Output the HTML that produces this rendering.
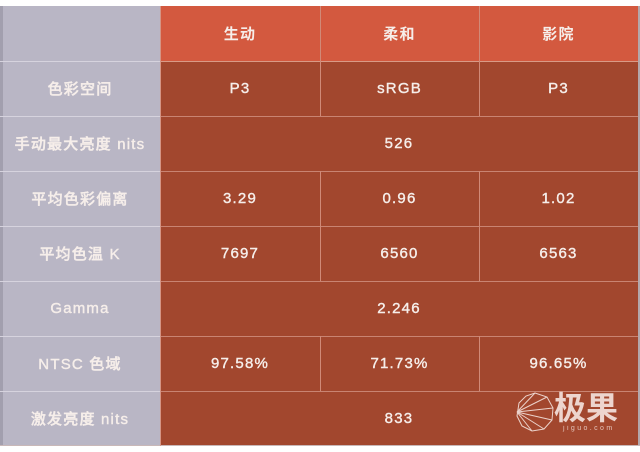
<!DOCTYPE html>
<html><head><meta charset="utf-8">
<style>
html,body{margin:0;padding:0;background:#fff;}
body{width:640px;height:452px;position:relative;overflow:hidden;
font-family:"Liberation Sans","Noto Sans CJK SC",sans-serif;}
.c{position:absolute;display:flex;align-items:center;justify-content:center;
color:#f6eeea;font-size:15px;letter-spacing:1.2px;font-weight:500;box-sizing:border-box;
-webkit-text-stroke:0.4px #f6eeea;}
.b{font-weight:bold;-webkit-text-stroke:0;}
.g{background:#b9b6c5;}
.h{background:#d3593f;}
.r{background:#a2472e;}
.hl{position:absolute;height:1px;}
.vl{position:absolute;width:1px;}
</style></head><body>
<!-- label column -->
<div class="c g" style="left:0;top:6px;width:160px;height:440px;"></div>
<div style="position:absolute;left:0;top:6px;width:3px;height:440px;background:#a29fae;"></div>
<!-- header -->
<div class="c h b" style="left:160px;top:6px;width:160px;height:55px;">生动</div>
<div class="c h b" style="left:320px;top:6px;width:159px;height:55px;">柔和</div>
<div class="c h b" style="left:479px;top:6px;width:159px;height:55px;">影院</div>
<!-- body background -->
<div class="r" style="position:absolute;left:160px;top:61px;width:478px;height:385px;"></div>
<div style="position:absolute;left:638px;top:6px;width:2px;height:440px;background:#b3a7ab;"></div>

<!-- labels -->
<div class="c" style="left:0;top:61px;width:160px;height:55px;">色彩空间</div>
<div class="c" style="left:0;top:116px;width:160px;height:55px;">手动最大亮度 nits</div>
<div class="c" style="left:0;top:171px;width:160px;height:55px;">平均色彩偏离</div>
<div class="c" style="left:0;top:226px;width:160px;height:55px;">平均色温 K</div>
<div class="c" style="left:0;top:281px;width:160px;height:55px;">Gamma</div>
<div class="c" style="left:0;top:336px;width:160px;height:55px;">NTSC 色域</div>
<div class="c" style="left:0;top:391px;width:160px;height:55px;">激发亮度 nits</div>

<!-- values -->
<div class="c" style="left:160px;top:61px;width:160px;height:55px;">P3</div>
<div class="c" style="left:320px;top:61px;width:159px;height:55px;">sRGB</div>
<div class="c" style="left:479px;top:61px;width:159px;height:55px;">P3</div>

<div class="c" style="left:160px;top:116px;width:478px;height:55px;">526</div>

<div class="c" style="left:160px;top:171px;width:160px;height:55px;">3.29</div>
<div class="c" style="left:320px;top:171px;width:159px;height:55px;">0.96</div>
<div class="c" style="left:479px;top:171px;width:159px;height:55px;">1.02</div>

<div class="c" style="left:160px;top:226px;width:160px;height:55px;">7697</div>
<div class="c" style="left:320px;top:226px;width:159px;height:55px;">6560</div>
<div class="c" style="left:479px;top:226px;width:159px;height:55px;">6563</div>

<div class="c" style="left:160px;top:281px;width:478px;height:55px;">2.246</div>

<div class="c" style="left:160px;top:336px;width:160px;height:55px;">97.58%</div>
<div class="c" style="left:320px;top:336px;width:159px;height:55px;">71.73%</div>
<div class="c" style="left:479px;top:336px;width:159px;height:55px;">96.65%</div>

<div class="c" style="left:160px;top:391px;width:478px;height:55px;">833</div>

<!-- horizontal lines -->
<div class="hl" style="left:0;top:61px;width:160px;background:#d6d3de;"></div>
<div class="hl" style="left:0;top:116px;width:160px;background:#d6d3de;"></div>
<div class="hl" style="left:0;top:171px;width:160px;background:#d6d3de;"></div>
<div class="hl" style="left:0;top:226px;width:160px;background:#d6d3de;"></div>
<div class="hl" style="left:0;top:281px;width:160px;background:#d6d3de;"></div>
<div class="hl" style="left:0;top:336px;width:160px;background:#d6d3de;"></div>
<div class="hl" style="left:0;top:391px;width:160px;background:#d6d3de;"></div>

<div class="hl" style="left:160px;top:61px;width:478px;background:#d99a86;"></div>
<div class="hl" style="left:160px;top:116px;width:478px;background:#c98472;"></div>
<div class="hl" style="left:160px;top:171px;width:478px;background:#c98472;"></div>
<div class="hl" style="left:160px;top:226px;width:478px;background:#c98472;"></div>
<div class="hl" style="left:160px;top:281px;width:478px;background:#c98472;"></div>
<div class="hl" style="left:160px;top:336px;width:478px;background:#c98472;"></div>
<div class="hl" style="left:160px;top:391px;width:478px;background:#c98472;"></div>
<div class="hl" style="left:0;top:445px;width:640px;background:#c9b8b8;"></div>

<!-- vertical lines -->
<div class="vl" style="left:160px;top:6px;height:440px;background:#d59585;"></div>
<div class="vl" style="left:320px;top:6px;height:110px;background:#d08a78;"></div>
<div class="vl" style="left:479px;top:6px;height:110px;background:#d08a78;"></div>
<div class="vl" style="left:320px;top:171px;height:110px;background:#d08a78;"></div>
<div class="vl" style="left:479px;top:171px;height:110px;background:#d08a78;"></div>
<div class="vl" style="left:320px;top:336px;height:55px;background:#d08a78;"></div>
<div class="vl" style="left:479px;top:336px;height:55px;background:#d08a78;"></div>

<!-- watermark -->
<svg style="position:absolute;left:510px;top:388px;" width="125" height="50" viewBox="0 0 125 50">
<g fill="none" stroke="#f4e2dc" stroke-width="1" opacity="0.9">
<polygon points="25,5 37,9 43,20 42,32 34,41 22,43 12,38 7,28 9,15 16,8"/>
<line x1="7" y1="24" x2="25" y2="5"/>
<line x1="7" y1="24" x2="37" y2="9"/>
<line x1="7" y1="24" x2="43" y2="20"/>
<line x1="7" y1="24" x2="42" y2="32"/>
<line x1="7" y1="24" x2="34" y2="41"/>
<line x1="7" y1="24" x2="22" y2="43"/>
</g>
<text x="44" y="31" fill="#f4e2dc" opacity="0.92" font-family="'Noto Sans CJK SC',sans-serif" font-weight="bold" font-size="32">极果</text>
<text x="53" y="42" fill="#f4e2dc" opacity="0.8" font-family="'Liberation Sans',sans-serif" font-size="7" letter-spacing="2.4">jiguo.com</text>
</svg>
</body></html>
